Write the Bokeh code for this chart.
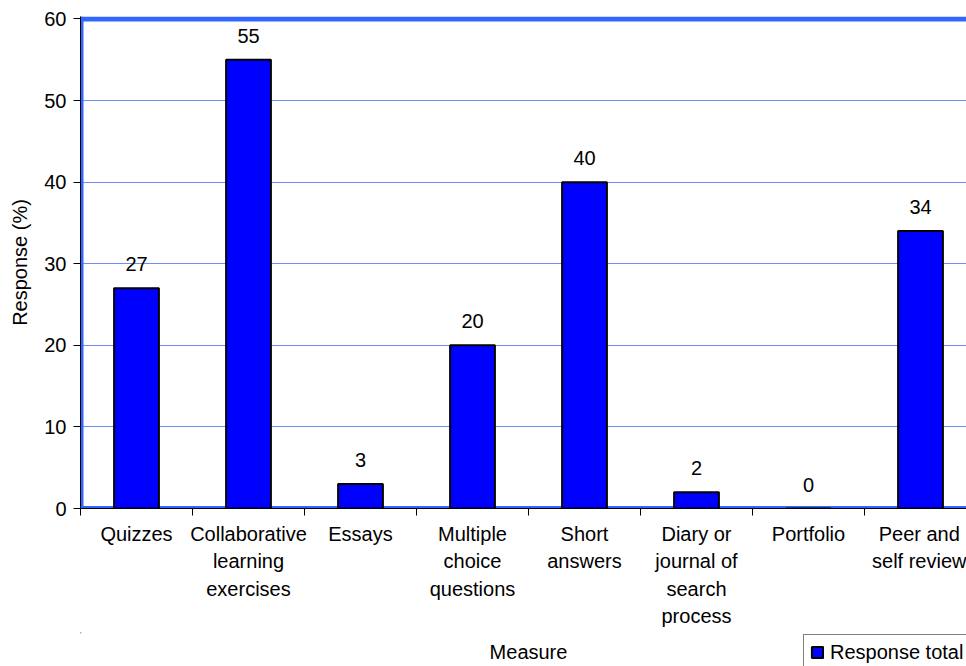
from bokeh.plotting import figure
from bokeh.models import Range1d, FixedTicker, ColumnDataSource, Legend, LegendItem, Span
from bokeh.layouts import column
from bokeh.embed import file_html
from bokeh.resources import INLINE
from bokeh.core.properties import value

categories = ["Quizzes", "Collaborative\nlearning\nexercises", "Essays",
              "Multiple\nchoice\nquestions", "Short\nanswers",
              "Diary or\njournal of\nsearch\nprocess", "Portfolio",
              "Peer and\nself review"]
responses = [27, 55, 3, 20, 40, 2, 0, 34]
y_ticks = [0, 10, 20, 30, 40, 50, 60]
series_name = "Response total"
x_title = "Measure"
y_title = "Response (%)"

FONT = "Liberation Sans"
BLUE_BORDER = "#3366FF"
n = len(categories)
xs = [i + 0.5 for i in range(n)]
src = ColumnDataSource(dict(x=xs, top=responses, lab=[str(v) for v in responses]))

p = figure(width=966, height=632, output_backend="svg", toolbar_location=None,
           x_range=Range1d(0, 886 / 112.0), y_range=Range1d(0, 60.3),
           min_border_left=80, min_border_right=0, min_border_top=16,
           min_border_bottom=124)
p.outline_line_color = None

# plot-area border (top, bottom, left) in Excel style
for loc, dim, w in ((60, "width", 5), (0, "width", 5), (0, "height", 6)):
    p.add_layout(Span(location=loc, dimension=dim, line_color=BLUE_BORDER,
                      line_width=w, level="underlay"))

r = p.vbar(x="x", top="top", width=0.4, bottom=0, source=src,
           fill_color="#0000FF", line_color="black", line_width=2)

p.text(x="x", y="top", text="lab", source=src, text_align="center",
       text_baseline="alphabetic", y_offset=-24, text_font=value(FONT),
       text_font_size="20px", text_color="black")

# x axis: labels centred, ticks at category boundaries
p.xaxis.ticker = FixedTicker(ticks=xs, minor_ticks=list(range(n + 1)))
p.xaxis.major_label_overrides = {x: c for x, c in zip(xs, categories)}
p.xaxis.major_tick_line_color = None
p.xaxis.major_tick_out = 0
p.xaxis.major_tick_in = 0
p.xaxis.minor_tick_out = 7
p.xaxis.minor_tick_in = 0
p.xaxis.minor_tick_line_color = "black"
p.xaxis.major_label_standoff = 7
p.xaxis.major_label_text_line_height = 1.255

p.yaxis.ticker = FixedTicker(ticks=y_ticks)
p.yaxis.minor_tick_line_color = None
p.yaxis.major_tick_line_color = "black"
p.yaxis.major_tick_out = 7
p.yaxis.major_tick_in = 0
p.yaxis.major_label_standoff = 7
p.yaxis.axis_label = y_title
p.yaxis.axis_label_standoff = 10

for ax in (p.xaxis, p.yaxis):
    ax.axis_line_color = "black"
    ax.axis_line_width = 1
    ax.major_label_text_font = FONT
    ax.major_label_text_font_size = "20px"
    ax.major_label_text_color = "black"
    ax.axis_label_text_font = FONT
    ax.axis_label_text_font_size = "20px"
    ax.axis_label_text_font_style = "normal"
    ax.axis_label_text_color = "black"

p.xgrid.grid_line_color = None
p.ygrid.grid_line_color = "#6A8FF0"
p.ygrid.grid_line_width = 1

# bottom strip (frame aligned with the main frame: x 80..966): axis title and legend
s = figure(width=966, height=34, output_backend="svg", toolbar_location=None,
           x_range=Range1d(80, 966), y_range=Range1d(34, 0),
           x_axis_type=None, y_axis_type=None,
           min_border_left=80, min_border_right=0, min_border_top=0,
           min_border_bottom=0)
s.outline_line_color = None
s.xgrid.visible = False
s.ygrid.visible = False
s.text(x=[528], y=[19], text=[x_title], text_align="center",
       text_baseline="middle", text_font=value(FONT), text_font_size="20px",
       text_color="black")
# legend swatch renderer (its single bar lies far outside the visible range)
lr = s.vbar(x=[-5000], top=[-5000], bottom=[-5001], width=1, fill_color="#0000FF",
            line_color="black", line_width=2)
legend = Legend(items=[LegendItem(label=series_name, renderers=[lr])],
                location=(723, -4.5), orientation="vertical",
                border_line_color="black", border_line_width=1,
                background_fill_color="white", background_fill_alpha=1,
                label_text_font=FONT, label_text_font_size="20px",
                label_text_color="black",
                glyph_width=14, glyph_height=14, label_standoff=6,
                padding=6, margin=0, spacing=0, label_height=20)
s.add_layout(legend, "center")

layout = column(p, s, spacing=0)
open("out.html", "w").write(file_html(layout, INLINE))
